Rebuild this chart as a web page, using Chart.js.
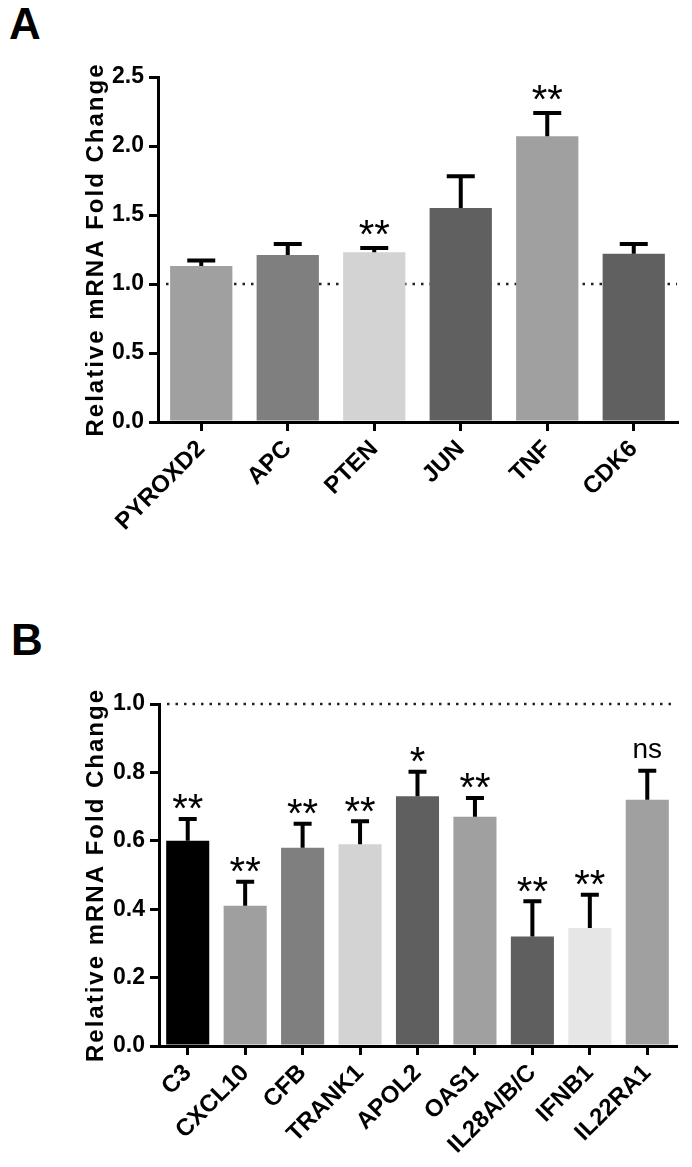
<!DOCTYPE html>
<html>
<head>
<meta charset="utf-8">
<script src="https://cdn.jsdelivr.net/npm/chart.js@4.4.0/dist/chart.umd.min.js"></script>
<style>
body { margin: 0; background: #fff; width: 692px; height: 1167px; position: relative; overflow: hidden; font-family: "Liberation Sans", Arial, sans-serif; }
canvas { position: absolute; left: 0; }
.letra { position: absolute; font-weight: bold; font-size: 44px; line-height: 44px; color: #000; }
</style>
</head>
<body>
<div class="letra" style="left:9px; top:2px;">A</div>
<div class="letra" style="left:11px; top:618px;">B</div>
<canvas id="graficoA" width="692" height="560" style="top:0px;"></canvas>
<canvas id="graficoB" width="692" height="607" style="top:560px;"></canvas>
<script>
// Panel A
const genesA = ['PYROXD2', 'APC', 'PTEN', 'JUN', 'TNF', 'CDK6'];
const foldA = [1.13, 1.21, 1.23, 1.55, 2.07, 1.22];
const semA = [0.04, 0.08, 0.03, 0.23, 0.17, 0.07];
const signifA = ['', '', '**', '', '**', ''];
const coloresA = ['#a0a0a0', '#7f7f7f', '#d3d3d3', '#606060', '#a0a0a0', '#606060'];
const ticksA = [0, 0.5, 1.0, 1.5, 2.0, 2.5];

// Panel B
const genesB = ['C3', 'CXCL10', 'CFB', 'TRANK1', 'APOL2', 'OAS1', 'IL28A/B/C', 'IFNB1', 'IL22RA1'];
const foldB = [0.60, 0.41, 0.58, 0.59, 0.73, 0.67, 0.32, 0.345, 0.72];
const semB = [0.064, 0.07, 0.07, 0.067, 0.072, 0.055, 0.103, 0.097, 0.085];
const signifB = ['**', '**', '**', '**', '*', '**', '**', '**', 'ns'];
const coloresB = ['#000000', '#9f9f9f', '#7f7f7f', '#d3d3d3', '#5f5f5f', '#a0a0a0', '#5f5f5f', '#e6e6e6', '#a0a0a0'];
const ticksB = [0, 0.2, 0.4, 0.6, 0.8, 1.0];

const fuente = '"Liberation Sans", Arial, sans-serif';
const tituloY = 'Relative mRNA Fold Change';

// error bars, significance marks, dotted line at 1.0 and the y title
function pluginExtras(errores, signif, capAncho, sepEstrella) {
    return {
        id: 'extras',
        beforeDatasetsDraw(chart) {
            const { ctx, chartArea, scales: { y } } = chart;
            const yRef = y.getPixelForValue(1);
            ctx.save();
            ctx.strokeStyle = '#222';
            ctx.lineWidth = 2.5;
            ctx.setLineDash([2.5, 6]);
            ctx.beginPath();
            ctx.moveTo(chartArea.left + 8, yRef);
            ctx.lineTo(chartArea.right, yRef);
            ctx.stroke();
            ctx.restore();
        },
        afterDatasetsDraw(chart) {
            const { ctx, scales: { y } } = chart;
            const meta = chart.getDatasetMeta(0);
            const datos = chart.data.datasets[0].data;
            ctx.save();
            ctx.strokeStyle = '#000';
            ctx.fillStyle = '#000';
            ctx.lineWidth = 4;
            meta.data.forEach((bar, i) => {
                const yTop = y.getPixelForValue(datos[i] + errores[i]);
                ctx.beginPath();
                ctx.moveTo(bar.x, bar.y);
                ctx.lineTo(bar.x, yTop);
                ctx.moveTo(bar.x - capAncho / 2, yTop);
                ctx.lineTo(bar.x + capAncho / 2, yTop);
                ctx.stroke();
                if (signif[i]) {
                    ctx.textAlign = 'center';
                    ctx.textBaseline = 'alphabetic';
                    if (signif[i] === 'ns') {
                        ctx.font = '28px ' + fuente;
                        ctx.fillText('ns', bar.x, yTop - sepEstrella + 0.26 * 28);
                    } else {
                        ctx.font = '40px ' + fuente;
                        ctx.fillText(signif[i], bar.x, yTop - sepEstrella + 0.58 * 40);
                    }
                }
            });
            ctx.restore();
        },
        afterDraw(chart) {
            const { ctx, chartArea } = chart;
            ctx.save();
            ctx.translate(96, (chartArea.top + chartArea.bottom) / 2);
            ctx.rotate(-Math.PI / 2);
            ctx.font = 'bold 24px ' + fuente;
            ctx.letterSpacing = '2px';
            ctx.fillStyle = '#000';
            ctx.textAlign = 'center';
            ctx.textBaseline = 'middle';
            ctx.fillText(tituloY, 0, 0);
            ctx.restore();
        }
    };
}

function crearGrafico(idCanvas, genes, valores, errores, signif, colores, ticks, cfg) {
    const ctx = document.getElementById(idCanvas).getContext('2d');
    const altoCanvas = ctx.canvas.height;
    return new Chart(ctx, {
        type: 'bar',
        data: {
            labels: genes,
            datasets: [{
                data: valores,
                backgroundColor: colores,
                borderWidth: 0,
                barPercentage: cfg.anchoBarra,
                categoryPercentage: 1.0
            }]
        },
        options: {
            responsive: false,
            animation: false,
            layout: { padding: { left: 0, right: 692 - cfg.derecha, top: cfg.arriba, bottom: 0 } },
            plugins: { legend: { display: false }, tooltip: { enabled: false } },
            scales: {
                x: {
                    afterFit: scale => { scale.height = altoCanvas - cfg.abajo; },
                    grid: { offset: false, drawOnChartArea: false, drawTicks: true, tickLength: 9, lineWidth: 3, color: '#000' },
                    border: { display: true, color: '#000', width: 3 },
                    ticks: { color: '#000', font: { family: fuente, size: 24, weight: 'bold' }, minRotation: 45, maxRotation: 45, padding: 4, autoSkip: false }
                },
                y: {
                    min: ticks[0],
                    max: ticks[ticks.length - 1],
                    afterFit: scale => { scale.width = cfg.izquierda; },
                    afterBuildTicks: scale => { scale.ticks = ticks.map(v => ({ value: v })); },
                    grid: { drawOnChartArea: false, drawTicks: true, tickLength: 9, lineWidth: 3, color: '#000' },
                    border: { display: true, color: '#000', width: 3 },
                    ticks: { color: '#000', font: { family: fuente, size: 23, weight: 'bold' }, padding: 5, callback: v => Number(v).toFixed(1) }
                }
            }
        },
        plugins: [pluginExtras(errores, signif, cfg.capAncho, cfg.sepEstrella)]
    });
}

crearGrafico('graficoA', genesA, foldA, semA, signifA, coloresA, ticksA,
    { izquierda: 158, derecha: 677, arriba: 77, abajo: 422, anchoBarra: 0.72, capAncho: 28, sepEstrella: 23 });
crearGrafico('graficoB', genesB, foldB, semB, signifB, coloresB, ticksB,
    { izquierda: 159, derecha: 676, arriba: 144, abajo: 486, anchoBarra: 0.75, capAncho: 18, sepEstrella: 20 });
</script>
</body>
</html>
